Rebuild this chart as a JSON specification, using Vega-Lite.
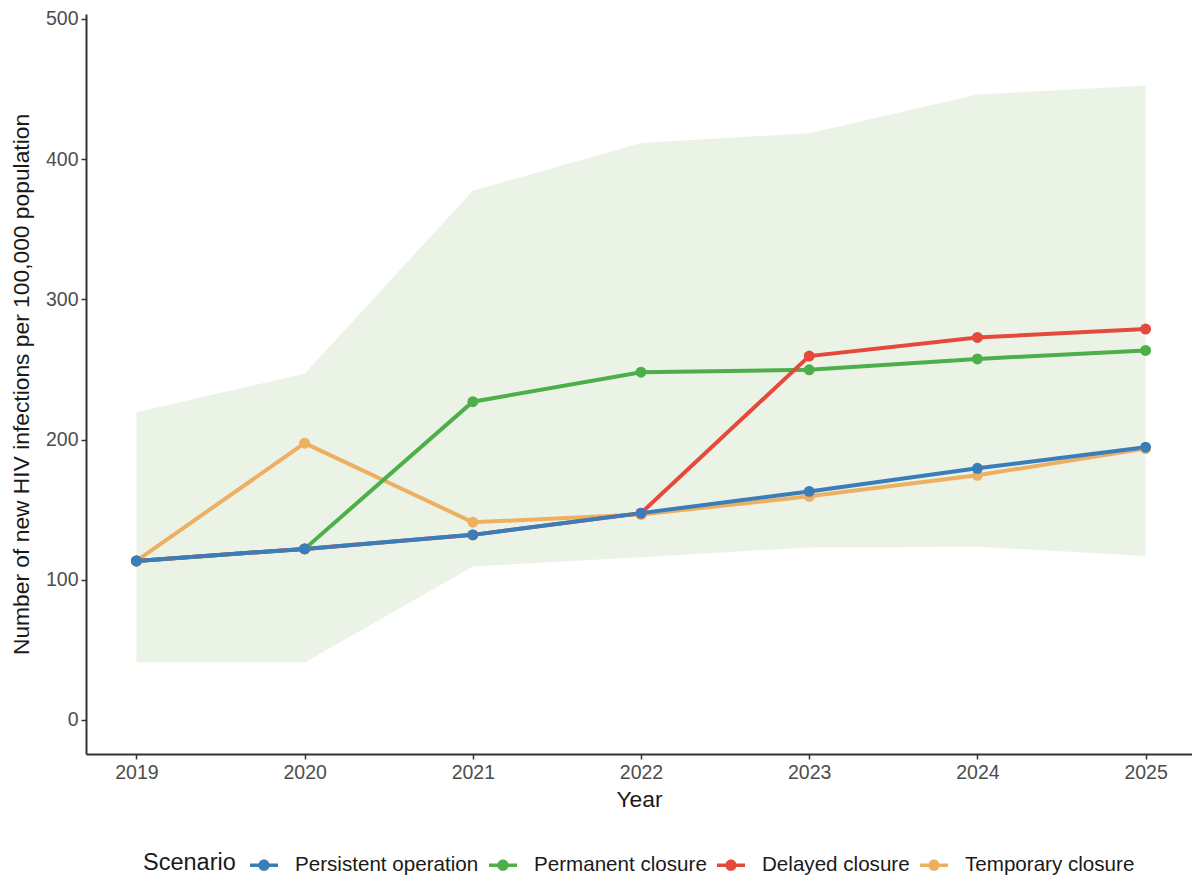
{
  "$schema": "https://vega.github.io/schema/vega-lite/v6.json",
  "width": 1106,
  "height": 740,
  "autosize": {"type": "none"},
  "padding": {"left": 86, "top": 14, "right": 0, "bottom": 127},
  "background": "white",
  "config": {
    "view": {"stroke": null},
    "font": "Liberation Sans",
    "axis": {
      "grid": false,
      "domainColor": "#333333",
      "domainWidth": 2,
      "tickColor": "#333333",
      "tickWidth": 1.5,
      "tickSize": 5,
      "labelColor": "#4D4D4D",
      "labelFontSize": 19.5,
      "labelFont": "Liberation Sans",
      "titleFont": "Liberation Sans",
      "titleFontSize": 22.8,
      "titleFontWeight": "normal",
      "titleColor": "#1A1A1A"
    }
  },
  "datasets": {
    "ribbon": [
      {"Year": 2019, "lower": 41, "upper": 219.5},
      {"Year": 2020, "lower": 41, "upper": 247},
      {"Year": 2021, "lower": 109.5, "upper": 377.5},
      {"Year": 2022, "lower": 116, "upper": 411.5},
      {"Year": 2023, "lower": 123, "upper": 418.5},
      {"Year": 2024, "lower": 123.5, "upper": 446},
      {"Year": 2025, "lower": 117, "upper": 452.5}
    ],
    "lines": [
      {"Scenario": "Temporary closure", "Year": 2019, "value": 113.4},
      {"Scenario": "Temporary closure", "Year": 2020, "value": 197.4},
      {"Scenario": "Temporary closure", "Year": 2021, "value": 141},
      {"Scenario": "Temporary closure", "Year": 2022, "value": 146.5},
      {"Scenario": "Temporary closure", "Year": 2023, "value": 159.5},
      {"Scenario": "Temporary closure", "Year": 2024, "value": 174.5},
      {"Scenario": "Temporary closure", "Year": 2025, "value": 193.5},
      {"Scenario": "Permanent closure", "Year": 2019, "value": 113.4},
      {"Scenario": "Permanent closure", "Year": 2020, "value": 122},
      {"Scenario": "Permanent closure", "Year": 2021, "value": 227},
      {"Scenario": "Permanent closure", "Year": 2022, "value": 248},
      {"Scenario": "Permanent closure", "Year": 2023, "value": 249.7},
      {"Scenario": "Permanent closure", "Year": 2024, "value": 257.5},
      {"Scenario": "Permanent closure", "Year": 2025, "value": 263.5},
      {"Scenario": "Delayed closure", "Year": 2019, "value": 113.4},
      {"Scenario": "Delayed closure", "Year": 2020, "value": 122},
      {"Scenario": "Delayed closure", "Year": 2021, "value": 132},
      {"Scenario": "Delayed closure", "Year": 2022, "value": 147.5},
      {"Scenario": "Delayed closure", "Year": 2023, "value": 259.5},
      {"Scenario": "Delayed closure", "Year": 2024, "value": 272.8},
      {"Scenario": "Delayed closure", "Year": 2025, "value": 278.8},
      {"Scenario": "Persistent operation", "Year": 2019, "value": 113.4},
      {"Scenario": "Persistent operation", "Year": 2020, "value": 122},
      {"Scenario": "Persistent operation", "Year": 2021, "value": 132},
      {"Scenario": "Persistent operation", "Year": 2022, "value": 147.5},
      {"Scenario": "Persistent operation", "Year": 2023, "value": 163},
      {"Scenario": "Persistent operation", "Year": 2024, "value": 179.5},
      {"Scenario": "Persistent operation", "Year": 2025, "value": 194.5}
    ]
  },
  "layer": [
    {
      "data": {"name": "ribbon"},
      "mark": {"type": "area", "color": "#EBF3E6", "opacity": 1},
      "encoding": {
        "x": {
          "field": "Year", "type": "quantitative",
          "scale": {"domain": [2018.7, 2025.276], "nice": false, "zero": false},
          "axis": {"values": [2019, 2020, 2021, 2022, 2023, 2024, 2025], "format": "d", "title": "Year", "labelPadding": 4, "titlePadding": 7}
        },
        "y": {
          "field": "lower", "type": "quantitative",
          "scale": {"domain": [-24.3, 503.5], "nice": false, "zero": false},
          "axis": {"values": [0, 100, 200, 300, 400, 500], "title": "Number of new HIV infections per 100,000 population", "labelPadding": 3, "titlePadding": 12}
        },
        "y2": {"field": "upper"}
      }
    },
    {
      "data": {"name": "lines"},
      "mark": {"type": "line", "strokeWidth": 4},
      "encoding": {
        "x": {"field": "Year", "type": "quantitative"},
        "y": {"field": "value", "type": "quantitative"},
        "color": {
          "field": "Scenario", "type": "nominal",
          "scale": {
            "domain": ["Persistent operation", "Permanent closure", "Delayed closure", "Temporary closure"],
            "range": ["#3A7DB8", "#4DAF4A", "#E4493C", "#EDB062"]
          },
          "legend": {
            "orient": "none",
            "legendX": 57,
            "legendY": 837,
            "direction": "horizontal",
            "title": "Scenario",
            "titleOrient": "left",
            "titleAnchor": "middle",
            "titleBaseline": "middle",
            "titleFontSize": 23.5,
            "titleFontWeight": "normal",
            "titleColor": "#1A1A1A",
            "titlePadding": 14,
            "labelFontSize": 20.6,
            "labelColor": "#1A1A1A",
            "labelLimit": 400,
            "labelOffset": 17,
            "columnPadding": 10,
            "symbolSize": 784,
            "symbolType": "M-1,-0.13H1V0.13H-1Z M-0.4,0 A0.4,0.4 0 1,1 0.4,0 A0.4,0.4 0 1,1 -0.4,0Z",
            "symbolStrokeWidth": 0,
            "encode": {
              "symbols": {
                "update": {
                  "fill": {"scale": "color", "field": "value"},
                  "fillOpacity": {"value": 1},
                  "strokeWidth": {"value": 0}
                }
              }
            }
          }
        },
        "order": {"field": "Year"}
      }
    },
    {
      "data": {"name": "lines"},
      "mark": {"type": "point", "filled": true, "size": 120, "opacity": 1},
      "encoding": {
        "x": {"field": "Year", "type": "quantitative"},
        "y": {"field": "value", "type": "quantitative"},
        "color": {"field": "Scenario", "type": "nominal"}
      }
    }
  ]
}
